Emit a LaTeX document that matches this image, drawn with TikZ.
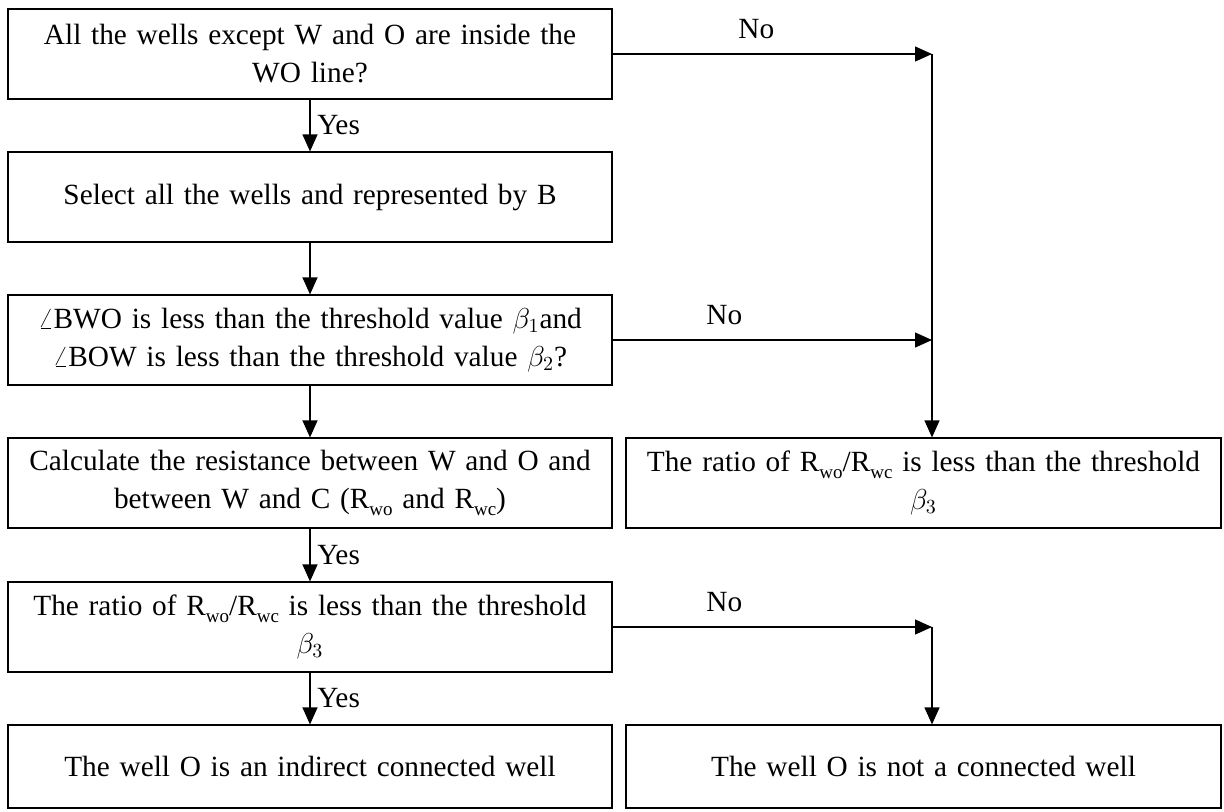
\documentclass[tikz,border=0pt]{standalone}
\usepackage{amsmath}
\usepackage{fontspec}
\setmainfont{Liberation Serif}
\usetikzlibrary{arrows.meta}
\newcommand{\lowsub}[1]{\raisebox{-0.5ex}{\fontsize{9.5}{10}\selectfont #1}}

\begin{document}
\begin{tikzpicture}[x=0.5pt,y=-0.5pt,
  font=\fontsize{14.65}{19}\selectfont,
  box/.style={shape=rectangle,draw=black,line width=0.6pt,minimum width=302pt,minimum height=45pt,text width=290pt,align=center,inner sep=0pt},
  flow/.style={-{Triangle[length=8.5pt,width=7.5pt]},line width=0.6pt}]
\useasboundingbox (0,0) rectangle (1224,811);
\node[box] (A) at (310,54) {All the wells except W and O are inside the\\WO line?};
\node[box] (B) at (310,197) {Select all the wells and represented by B};
\node[box] (C) at (310,340) {$\angle$BWO is less than the threshold value $\beta_1$and\\$\angle$BOW is less than the threshold value $\beta_2$?};
\node[box] (D) at (310,483) {Calculate the resistance between W and O and\\between W and C (R\lowsub{wo} and R\lowsub{wc})};
\node[box,minimum width=297.5pt] (E) at (923.5,483) {The ratio of R\lowsub{wo}/R\lowsub{wc} is less than the threshold\\$\beta_3$};
\node[box] (F) at (310,627) {The ratio of R\lowsub{wo}/R\lowsub{wc} is less than the threshold\\$\beta_3$};
\node[box,minimum height=41.5pt] (G) at (310,766.5) {The well O is an indirect connected well};
\node[box,minimum height=41.5pt,minimum width=297.5pt] (H) at (923.5,766.5) {The well O is not a connected well};
\coordinate (P) at (932,54);
\coordinate (Q) at (932,340);
\coordinate (R) at (932,627);
\path [flow] (A) edge node[right] {Yes} (B);
\path [flow] (B) edge (C);
\path [flow] (C) edge (D);
\path [flow] (D) edge node[right] {Yes} (F);
\path [flow] (F) edge node[right] {Yes} (G);
\path [flow] (A) edge node[above,pos=0.45,yshift=4pt] {No} (P);
\path [flow] (C) edge node[above,pos=0.35,yshift=4pt] {No} (Q);
\path [flow] (F) edge node[above,pos=0.35,yshift=4pt] {No} (R);
\path [flow] (P) edge (P |- E.north);
\path [flow] (R) edge (R |- H.north);
\end{tikzpicture}
\end{document}
